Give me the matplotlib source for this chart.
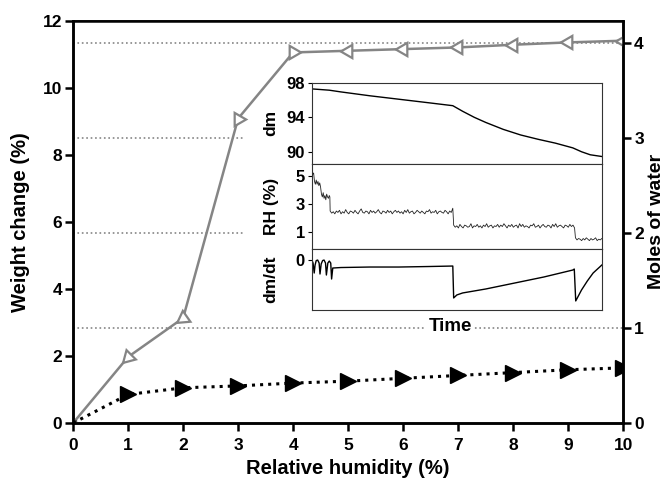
import numpy as np
import matplotlib.pyplot as plt

plt.rcParams['font.family'] = ['Liberation Sans', 'DejaVu Sans']
plt.rcParams['font.weight'] = 'bold'

# main data
rh = [0, 1, 2, 3, 4, 5, 6, 7, 8, 9, 10]
weight_change = [0, 1.97, 3.13, 9.08, 11.05, 11.1, 11.15, 11.2, 11.28, 11.35, 11.4]
moles_water = [0, 0.30, 0.37, 0.39, 0.42, 0.44, 0.47, 0.50, 0.53, 0.56, 0.58]
moles_ticks = [0, 1, 2, 3, 4]

# inset traces (time as fraction of run)
dm_t = [0, 0.06, 0.1, 0.2, 0.3, 0.4, 0.486, 0.52, 0.56, 0.6, 0.66, 0.72,
        0.78, 0.84, 0.9, 0.93, 0.96, 1.0]
dm_val = [97.3, 97.15, 96.95, 96.5, 96.1, 95.7, 95.35, 94.7, 94.0, 93.4, 92.6,
          91.95, 91.45, 91.0, 90.45, 90.0, 89.65, 89.45]

rh_start_t = [0, 0.003, 0.006, 0.009, 0.012, 0.015, 0.018, 0.021, 0.024,
              0.027, 0.03, 0.033, 0.036, 0.039, 0.042, 0.045, 0.048, 0.051,
              0.054, 0.057, 0.06, 0.062]
rh_start = [5.3, 5.1, 5.2, 4.6, 4.4, 4.7, 4.4, 4.6, 4.3, 4.5, 4.2, 3.7, 3.5,
            3.8, 3.4, 3.6, 3.3, 3.7, 3.5, 3.4, 3.6, 3.5]
rh_step1 = [2.5, 2.35, 2.45, 2.3, 2.5, 2.4, 2.55, 2.3, 2.45, 2.35, 2.6, 2.4,
            2.3, 2.5, 2.45, 2.35, 2.55, 2.4, 2.3, 2.5, 2.65, 2.4, 2.35, 2.5,
            2.45, 2.3, 2.55, 2.4, 2.5, 2.35, 2.45, 2.6, 2.4, 2.3, 2.5, 2.45,
            2.35, 2.55, 2.4, 2.5, 2.3, 2.45, 2.55, 2.4, 2.5, 2.35, 2.45, 2.3,
            2.55, 2.4, 2.6, 2.35, 2.45, 2.5, 2.3, 2.4, 2.55, 2.45, 2.35, 2.5,
            2.4, 2.3, 2.5, 2.45, 2.6, 2.35, 2.45, 2.4, 2.55, 2.3, 2.45, 2.5,
            2.4, 2.35, 2.55, 2.45, 2.3, 2.5, 2.4, 2.7]
rh_step2 = [1.5, 1.35, 1.45, 1.3, 1.55, 1.4, 1.3, 1.5, 1.45, 1.35, 1.4, 1.6,
            1.3, 1.45, 1.4, 1.55, 1.35, 1.45, 1.3, 1.5, 1.4, 1.6, 1.35, 1.45,
            1.5, 1.3, 1.45, 1.4, 1.55, 1.35, 1.5, 1.4, 1.6, 1.45, 1.3, 1.5,
            1.4, 1.55, 1.35, 1.45, 1.5, 1.3, 1.6, 1.4, 1.55, 1.35, 1.45, 1.4,
            1.3, 1.5, 1.45, 1.6, 1.35, 1.4, 1.5, 1.3, 1.45, 1.55, 1.4, 1.35,
            1.5, 1.45, 1.3, 1.55, 1.4, 1.6, 1.35, 1.45, 1.5, 1.4, 1.3, 1.5,
            1.45, 1.35, 1.55, 1.4, 1.5, 1.3]
rh_step3 = [0.6, 0.45, 0.55, 0.5, 0.4, 0.55, 0.45, 0.6, 0.5, 0.4, 0.55, 0.45,
            0.5, 0.6, 0.4, 0.5, 0.45, 0.55]

dmdt_t = [0, 0.004, 0.008, 0.011, 0.015, 0.02, 0.025, 0.028, 0.032, 0.037,
          0.042, 0.047, 0.05, 0.055, 0.06, 0.065, 0.068, 0.072, 0.1, 0.2, 0.3,
          0.4, 0.486, 0.489, 0.5, 0.52, 0.6, 0.7, 0.8, 0.9, 0.905, 0.91, 0.93,
          0.95, 0.97, 1.0]
dmdt_val = [0.0, -0.3, -1.3, -0.5, -0.05, 0.0, -0.3, -1.4, -0.4, -0.05, 0.0,
            -0.3, -1.5, -0.3, -0.1, -0.3, -1.9, -0.8, -0.75, -0.7, -0.7, -0.65,
            -0.6, -3.8, -3.5, -3.3, -2.9, -2.3, -1.7, -1.0, -0.9, -4.1, -3.0,
            -2.1, -1.3, -0.5]

fig = plt.figure(figsize=(6.65, 4.79), dpi=100)
ax = fig.add_axes([0.11, 0.117, 0.827, 0.84])
ax2 = ax.twinx()

gray = '#858585'
# reference lines for each mole of water
for k, xmax in zip(moles_ticks[1:], [1.0, 0.31, 0.31, 1.0]):
    ax.axhline(k * 12 / 4.235, xmin=0, xmax=xmax, color=gray, ls=':', lw=1.2, zorder=1)

ax.plot(rh, weight_change, color=gray, lw=1.8, zorder=3)
angles = [0, 135, 125, -90, -90, 90, 90, 90, 90, 90, 90]
for xi, yi, a in zip(rh, weight_change, angles):
    if xi == 0:
        ax.plot(xi, yi, marker='s', ms=5, color='#555555', zorder=4)
    else:
        ax.plot(xi, yi, marker=(3, 0, a), ms=11, mfc='white', mec=gray,
                mew=1.6, zorder=4)

ax2.plot(rh, moles_water, color='black', ls=':', lw=2.2, marker='>', ms=11.5,
         mfc='black', mec='black', markevery=list(range(1, len(rh))))

ax.set_xlim(0, 10)
ax.set_ylim(0, 12)
ax2.set_ylim(0, 4.235)
ax.set_xticks(rh)
ax.set_yticks([0, 2, 4, 6, 8, 10, 12])
ax2.set_yticks(moles_ticks)
ax.set_xlabel('Relative humidity (%)', fontsize=14.5, fontweight='bold', labelpad=4)
ax.set_ylabel('Weight change (%)', fontsize=14.5, fontweight='bold', labelpad=9)
ax2.set_ylabel('Moles of water', fontsize=14, fontweight='bold', labelpad=3)
for a in (ax, ax2):
    for s in a.spines.values():
        s.set_linewidth(1.8)
    a.tick_params(width=1.8, length=6, labelsize=12.5, pad=2)
ax.tick_params(axis='x', pad=5)
ax.spines['top'].set_linewidth(1.2)

# inset
ix0, iw = 0.469, 0.436
ins_dm = fig.add_axes([ix0, 0.658, iw, 0.169])
ins_rh = fig.add_axes([ix0, 0.480, iw, 0.178])
ins_dd = fig.add_axes([ix0, 0.353, iw, 0.127])

ins_dm.plot(dm_t, dm_val, color='black', lw=1.0)
ins_dm.set_ylim(88.6, 98)
ins_dm.set_yticks([90, 94, 98])
ins_dm.set_ylabel('dm')

t1 = np.linspace(0.063, 0.486, len(rh_step1))
t2 = np.linspace(0.489, 0.906, len(rh_step2))
t3 = np.linspace(0.909, 1.0, len(rh_step3))
rh_t = np.concatenate([rh_start_t, t1, t2, t3])
rh_v = np.concatenate([rh_start, rh_step1, rh_step2, rh_step3])
ins_rh.plot(rh_t, rh_v, color='#222222', lw=0.6)
ins_rh.set_ylim(-0.2, 5.85)
ins_rh.set_yticks([1, 3, 5])
ins_rh.set_ylabel('RH (%)')

ins_dd.plot(dmdt_t, dmdt_val, color='black', lw=1.0)
ins_dd.set_ylim(-5, 1.1)
ins_dd.set_yticks([0])
ins_dd.set_ylabel('dm/dt')

for a in (ins_dm, ins_rh, ins_dd):
    a.set_xlim(0, 1.0)
    a.set_xticks([])
    a.yaxis.label.set_fontsize(12.5)
    a.yaxis.label.set_fontweight('bold')
    a.yaxis.set_label_coords(-0.115, 0.5)
    a.tick_params(axis='y', length=3, width=0.8, labelsize=12, pad=2)
    for s in a.spines.values():
        s.set_linewidth(0.8)
        s.set_color('#333333')

fig.text(0.677, 0.318, 'Time', fontsize=13.5, fontweight='bold', ha='center',
         va='center', bbox=dict(facecolor='white', edgecolor='none', pad=1.5))

fig.savefig('out.png', dpi=100)
